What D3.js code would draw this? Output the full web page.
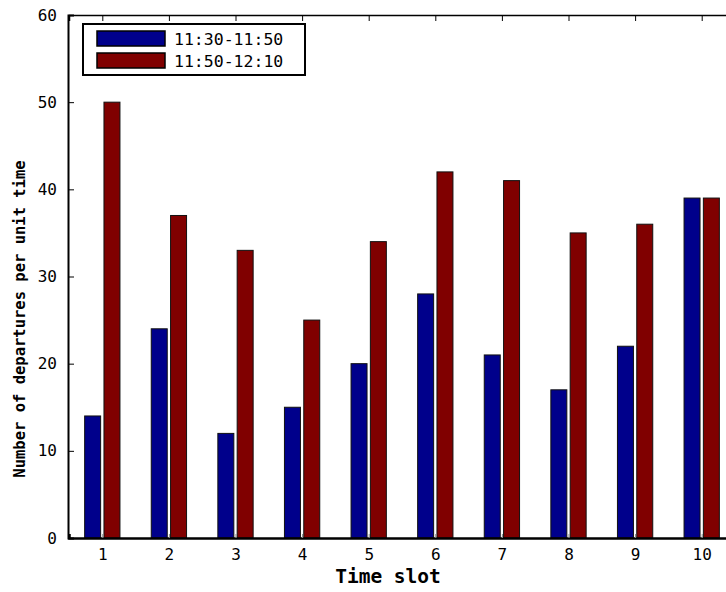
<!DOCTYPE html>
<html>
<head>
<meta charset="utf-8">
<script src="https://cdn.jsdelivr.net/npm/d3@7.9.0/dist/d3.min.js"></script>
<style>
  body { margin: 0; background: #fff; }
  svg { display: block; }
  text { font-family: "DejaVu Sans Mono", "Liberation Mono", monospace; fill: #000; }
</style>
</head>
<body>
<svg id="chart" width="726" height="592"></svg>
<script>
// values
const slots = [1, 2, 3, 4, 5, 6, 7, 8, 9, 10];
const early = [14, 24, 12, 15, 20, 28, 21, 17, 22, 39];   // 11:30-11:50
const late  = [50, 37, 33, 25, 34, 42, 41, 35, 36, 39];   // 11:50-12:10
const seriesNames = ["11:30-11:50", "11:50-12:10"];
const seriesColors = ["#00008b", "#800000"];
const yTicks = [0, 10, 20, 30, 40, 50, 60];

const svg = d3.select("#chart");
const plotLeft = 68, plotTop = 15, plotBottom = 538;

const x = d3.scaleLinear().domain([0.5, 10.5]).range([plotLeft + 1, 735]);
const y = d3.scaleLinear().domain([0, 60]).range([plotBottom, plotTop]);

const barW = 0.24, offs = [-0.145, 0.145];

// bars
[early, late].forEach((vals, s) => {
    svg.append("g").selectAll("rect")
        .data(vals)
        .join("rect")
        .attr("x", (d, i) => x(slots[i] + offs[s] - barW / 2))
        .attr("width", x(barW) - x(0))
        .attr("y", d => y(d))
        .attr("height", d => y(0) - y(d))
        .attr("fill", seriesColors[s])
        .attr("stroke", "#111")
        .attr("stroke-width", 1);
});

// y axis (ticks pointing inward)
const yAxis = svg.append("g")
    .attr("transform", `translate(${plotLeft},0)`)
    .call(d3.axisLeft(y).tickValues(yTicks).tickSize(-6).tickPadding(11));
yAxis.select(".domain").attr("stroke-width", 2);
yAxis.selectAll("text").attr("font-size", 16);

// x axis (bottom)
const xAxis = svg.append("g")
    .attr("transform", `translate(0,${plotBottom})`)
    .call(d3.axisBottom(x).tickValues(slots).tickSize(-4).tickPadding(11));
xAxis.select(".domain").attr("stroke-width", 2.5);
xAxis.selectAll(".tick line").attr("stroke", "#888");
xAxis.selectAll("text").attr("font-size", 16);

// top border with ticks pointing down
const topAxis = svg.append("g")
    .attr("transform", `translate(0,${plotTop})`)
    .call(d3.axisTop(x).tickValues(slots).tickSize(-6).tickFormat(""));
topAxis.select(".domain").attr("stroke-width", 1.5);

// axis titles
svg.append("text")
    .attr("x", 388).attr("y", 583)
    .attr("text-anchor", "middle")
    .attr("font-size", 19.5).attr("font-weight", "bold")
    .text("Time slot");

svg.append("text")
    .attr("transform", "translate(25,319) rotate(-90)")
    .attr("text-anchor", "middle")
    .attr("font-size", 15.5).attr("font-weight", "bold")
    .text("Number of departures per unit time");

// legend
const legend = svg.append("g").attr("transform", "translate(83,24)");
legend.append("rect")
    .attr("width", 222).attr("height", 51)
    .attr("fill", "#fff").attr("stroke", "#000").attr("stroke-width", 2);
seriesNames.forEach((name, i) => {
    legend.append("rect")
        .attr("x", 14).attr("y", 7 + i * 22)
        .attr("width", 68).attr("height", 15)
        .attr("fill", seriesColors[i]).attr("stroke", "#000").attr("stroke-width", 1.5);
    legend.append("text")
        .attr("x", 91).attr("y", 21 + i * 22)
        .attr("font-size", 16.5)
        .text(name);
});
</script>
</body>
</html>
